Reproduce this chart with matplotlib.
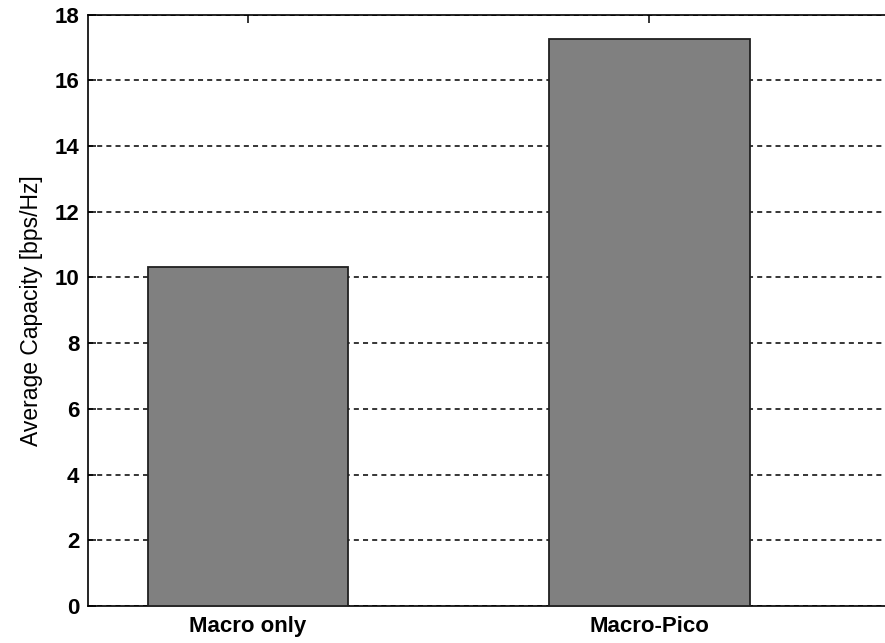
import matplotlib.pyplot as plt
import numpy as np

plt.rcParams['font.family'] = ['Liberation Sans', 'DejaVu Sans']

schemes = ['Macro only', 'Macro-Pico']
capacity = [10.31, 17.25]

fig = plt.figure(figsize=(8.85, 6.43), dpi=100)
W, H = 885.0, 643.0
left, right, top, bottom = 87.5, 890.0, 14.5, 606.0
ax = fig.add_axes([left / W, (H - bottom) / H, (right - left) / W, (bottom - top) / H])

x = np.arange(1, len(schemes) + 1)
ax.bar(x, capacity, width=0.5, color='#808080', edgecolor='#202020', linewidth=1.3, zorder=3)

ax.set_xlim(0.6, 2.6)
ax.set_ylim(0, 18)
ax.set_yticks(np.arange(0, 19, 2))
ax.set_xticks(x)
ax.set_xticklabels(schemes, fontsize=16, fontweight='bold')
for lbl in ax.get_yticklabels():
    lbl.set_fontsize(16)
    lbl.set_fontweight('bold')

ax.yaxis.grid(True, linestyle=(0, (3.3, 2.7)), color='black', linewidth=1.1, zorder=0)
ax.set_axisbelow(True)
ax.tick_params(axis='both', direction='in', length=6, width=1.1, top=True, right=False)
ax.tick_params(axis='y', pad=6)
ax.tick_params(axis='x', pad=7)
for s in ax.spines.values():
    s.set_linewidth(1.2)

ax.set_ylabel('Average Capacity [bps/Hz]', fontsize=16.5, labelpad=8)

fig.savefig('out.png', dpi=100)
